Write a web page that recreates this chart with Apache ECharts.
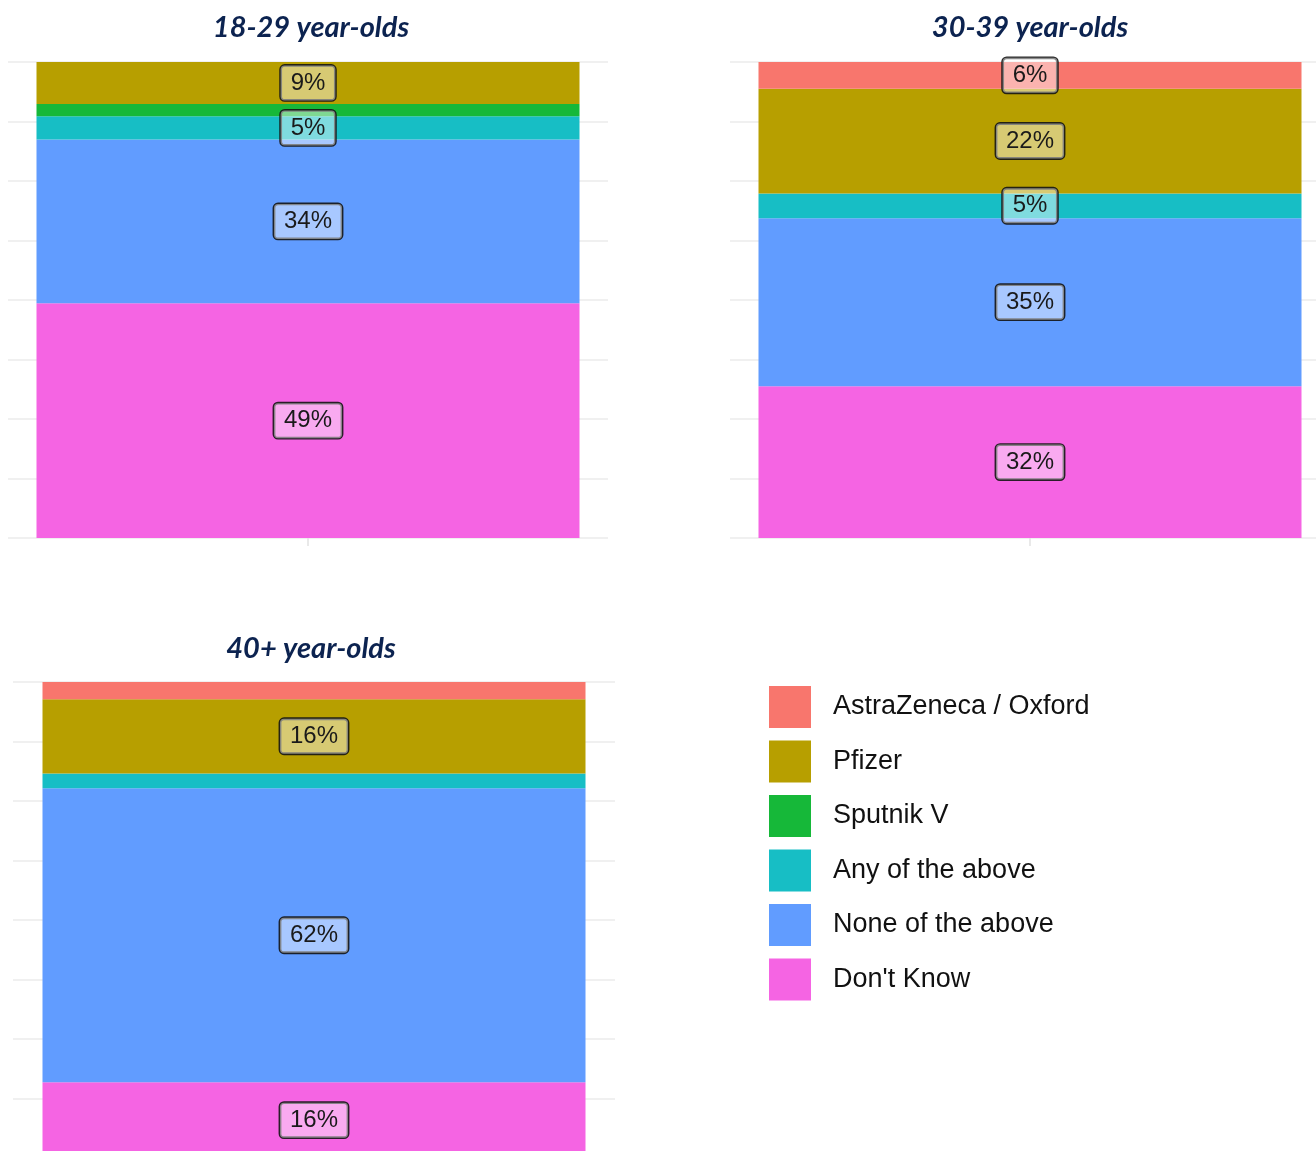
<!DOCTYPE html>
<html>
<head>
<meta charset="utf-8">
<title>Vaccine preference by age group</title>
<script src="https://cdn.jsdelivr.net/npm/echarts@6/dist/echarts.min.js"></script>
<style>
    html, body { margin: 0; padding: 0; background: #fff; overflow: hidden; }
    /* 画布比窗口略大，右侧与底部的面板被窗口裁掉 */
    #chart { width: 1340px; height: 1170px; }
</style>
</head>
<body>
<div id="chart"></div>
<script>
/************************    数据    ****************************/
var groups = ['18-29 year-olds', '30-39 year-olds', '40+ year-olds'];

var vaccines = ['AstraZeneca / Oxford', 'Pfizer', 'Sputnik V', 'Any of the above', 'None of the above', "Don't Know"];

var colors = ['#F8766D', '#B79F00', '#16B839', '#17BEC5', '#619CFF', '#F564E3'];

// share of respondents (%), same order as vaccines
var share1829 = [0, 8.8, 2.6, 4.9, 34.4, 49.3];
var share3039 = [5.6, 22.0, 0, 5.2, 35.3, 31.9];
var share40 = [3.6, 15.6, 0, 3.1, 61.8, 15.9];

var shares = [share1829, share3039, share40];

/************************    面板位置    ****************************/
var panels = [
    { left: 8, top: 62, width: 600, titleX: 311, titleY: 11 },
    { left: 730, top: 62, width: 600, titleX: 1030, titleY: 11 },
    { left: 13, top: 682, width: 602, titleX: 311, titleY: 632 }
];
var plotHeight = 476;
var barWidth = 543;
var gridColor = '#ebebeb';

var chart = echarts.init(document.getElementById('chart'));

var titles = [], grids = [], xAxes = [], yAxes = [], series = [];

panels.forEach(function (p, i) {
    titles.push({
        text: groups[i],
        left: p.titleX,
        top: p.titleY,
        textAlign: 'center',
        padding: 0,
        textStyle: {
            fontFamily: 'Lato',
            fontSize: 29,
            fontWeight: 'bold',
            fontStyle: 'italic',
            color: '#0c2350',
            lineHeight: 34
        }
    });
    grids.push({ left: p.left, top: p.top, width: p.width, height: plotHeight, containLabel: false });
    xAxes.push({
        type: 'category',
        gridIndex: i,
        data: [''],
        axisLine: { show: false },
        axisLabel: { show: false },
        axisTick: { show: true, alignWithLabel: true, length: 8, lineStyle: { color: '#e2e2e2', width: 1.5 } },
        splitLine: { show: false }
    });
    yAxes.push({
        type: 'value',
        gridIndex: i,
        min: 0,
        max: 100,
        interval: 12.5,
        axisLine: { show: false },
        axisTick: { show: false },
        axisLabel: { show: false },
        splitLine: { show: true, lineStyle: { color: gridColor, width: 1.5 } }
    });

    // 由下往上堆叠：Don't Know 在最底
    for (var k = vaccines.length - 1; k >= 0; k--) {
        var v = shares[i][k];
        series.push({
            name: vaccines[k],
            type: 'bar',
            stack: 'panel' + i,
            xAxisIndex: i,
            yAxisIndex: i,
            barWidth: barWidth,
            itemStyle: { color: colors[k] },
            label: {
                show: true,
                position: 'inside',
                formatter: function (params) {
                    return Math.round(params.value) + '%';
                },
                fontFamily: 'Liberation Sans',
                fontSize: 24,
                lineHeight: 24,
                color: '#1a1a1a',
                backgroundColor: 'rgba(255,255,255,0.45)',
                borderColor: 'rgba(20,20,20,0.9)',
                borderWidth: 1.4,
                borderRadius: 4,
                padding: [6, 10, 5, 10]
            },
            emphasis: { disabled: true },
            data: [{ value: v, label: { show: v >= 4.5 } }]
        });
    }
});

/************************    配置    ****************************/
var option = {
    backgroundColor: '#ffffff',
    animation: false,
    title: titles,
    legend: {
        data: vaccines,
        orient: 'vertical',
        left: 769,
        top: 686,
        padding: 0,
        itemWidth: 42,
        itemHeight: 42,
        itemGap: 12.5,
        icon: 'rect',
        selectedMode: false,
        textStyle: {
            fontFamily: 'Liberation Sans',
            fontSize: 27,
            color: '#111',
            padding: [0, 0, 0, 17]
        }
    },
    grid: grids,
    xAxis: xAxes,
    yAxis: yAxes,
    series: series
};

chart.setOption(option);
</script>
</body>
</html>
